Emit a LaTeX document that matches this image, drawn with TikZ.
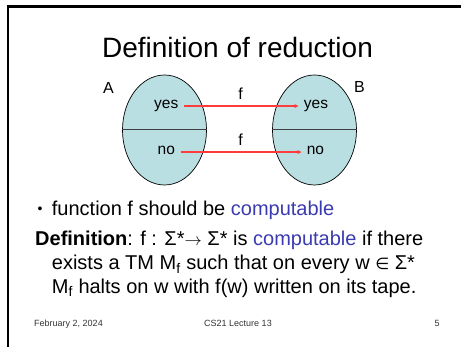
\documentclass[tikz,border=0pt]{standalone}
\usepackage{fontspec}
\setmainfont{Liberation Sans}
\newfontfamily\symfont{DejaVu Sans}
\usetikzlibrary{shapes.geometric,arrows.meta}
\definecolor{setfill}{HTML}{B9DFE3}
\definecolor{comp}{HTML}{3B3BB0}
\definecolor{arrred}{HTML}{FF3B3B}
\definecolor{divline}{HTML}{404040}
\tikzset{
  setell/.style={ellipse, draw=black, line width=0.7pt, fill=setfill, minimum width=84pt, minimum height=110pt, inner sep=0pt},
  inlab/.style={font=\fontsize{15.5}{18}\selectfont, inner sep=0pt, anchor=base},
  setlab/.style={font=\fontsize{16}{19}\selectfont, inner sep=0pt, anchor=base west},
  flab/.style={font=\fontsize{16}{19}\selectfont, inner sep=0pt, anchor=base},
  maparrow/.style={draw=arrred, line width=1.2pt, -{Triangle[length=4pt,width=3.5pt]}, shorten <=5.5pt, shorten >=5pt},
  bodytext/.style={font=\fontsize{20}{24}\selectfont, inner sep=0pt, anchor=base west},
  foot/.style={font=\fontsize{9}{11}\selectfont, inner sep=0pt, anchor=base, text=black!80}
}
\begin{document}
\begin{tikzpicture}[x=1pt,y=-1pt]
\useasboundingbox (0,0) rectangle (461,347);
% slide frame (top and left edges)
\draw[line width=3pt, black] (7,6.5) -- (461,6.5);
\draw[line width=2.5pt, black] (8,5) -- (8,347);
% title
\node[font=\fontsize{28}{33}\selectfont, inner sep=0pt, anchor=base] (title) at (237.5,58) {Definition of reduction};
% sets
\node[setell] (A) at (164.5,130) {};
\node[setell] (B) at (314.5,130) {};
\draw[divline, line width=1pt] (A.west) -- (A.east);
\draw[divline, line width=1pt] (B.west) -- (B.east);
\node[setlab] (lA) at (103,93.3) {A};
\node[setlab] (lB) at (354,92.5) {B};
\node[inlab] (ya) at (166.3,108.7) {yes};
\node[inlab] (na) at (166.3,154.7) {no};
\node[inlab] (yb) at (316,108.7) {yes};
\node[inlab] (nb) at (315.5,154.7) {no};
\draw[maparrow] (ya.mid east) -- (yb.mid west);
\draw[maparrow] (na.mid east) -- (nb.mid west);
\node[flab] (f1) at (240.5,99.5) {f};
\node[flab] (f2) at (240.5,145.5) {f};
% body text
\node[bodytext, font=\fontsize{14}{16}\selectfont] (bul) at (37.5,214) {•};
\node[bodytext] (l1) at (51.7,216) {function f should be \textcolor{comp}{computable}};
\node[bodytext] (l2) at (35,246) {\textbf{Definition}: f : Σ*{\fontsize{19}{20}\selectfont$\rightarrow$} Σ* is \textcolor{comp}{computable} if there};
\node[bodytext] (l3) at (51.7,270) {exists a TM M\textsubscript{f} such that on every w {\symfont\fontsize{16}{20}\selectfont ∈} Σ*};
\node[bodytext] (l4) at (51.7,293.3) {M\textsubscript{f} halts on w with f(w) written on its tape.};
% footer
\node[foot] (date) at (68.5,326.7) {February 2, 2024};
\node[foot] (lect) at (238,326.7) {CS21 Lecture 13};
\node[foot] (page) at (437,326.7) {5};
\end{tikzpicture}
\end{document}
